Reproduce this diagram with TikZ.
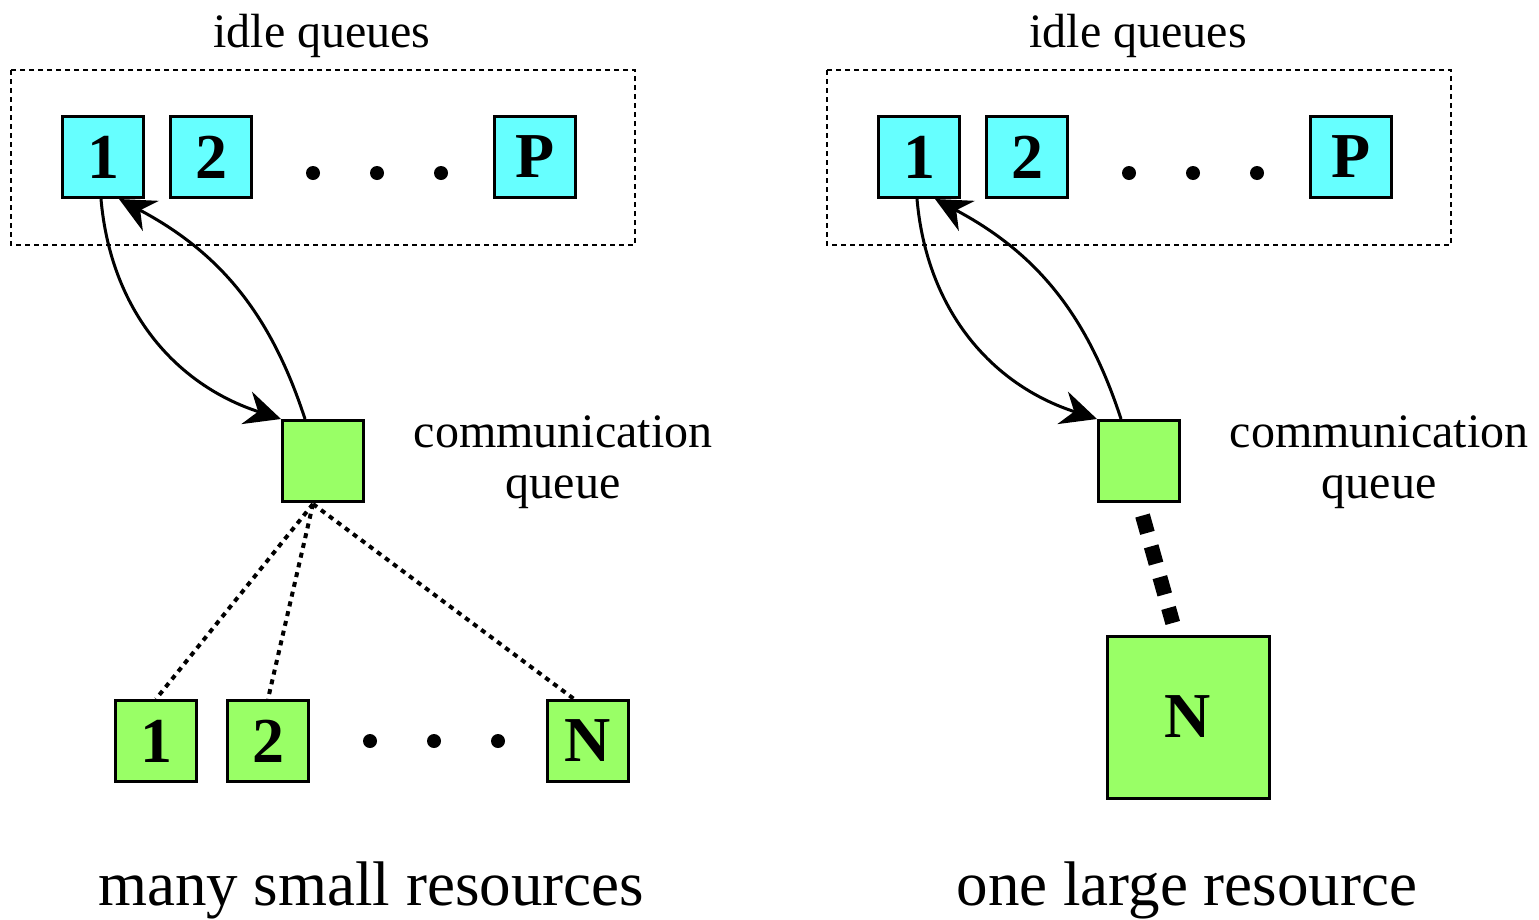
\documentclass[tikz,border=0pt]{standalone}
\usepackage{fontspec}
\setmainfont{Liberation Serif}
\usetikzlibrary{arrows.meta,calc}
\definecolor{qcyan}{HTML}{66FFFF}
\definecolor{qgreen}{HTML}{99FF66}
\begin{document}
\begin{tikzpicture}[x=1pt,y=1pt,
  qbox/.style={draw,line width=3pt,minimum size=81pt,inner sep=0pt,font=\fontsize{64}{64}\selectfont\bfseries},
  idlebox/.style={qbox,fill=qcyan},
  resbox/.style={qbox,fill=qgreen},
  dotn/.style={circle,fill=black,inner sep=0pt,minimum size=14pt},
  lbl/.style={font=\fontsize{48}{51}\selectfont,align=center,anchor=base},
  biglbl/.style={font=\fontsize{63}{63}\selectfont,anchor=base},
  frame/.style={draw,dashed,line width=1.3pt,dash pattern=on 5pt off 4pt},
  flow/.style={line width=3pt,-{Stealth[length=36pt,width=34pt,inset=12pt]}},
  dotted link/.style={line width=4pt,dash pattern=on 5pt off 5pt},
  heavy link/.style={line width=15pt,dash pattern=on 18pt off 14pt}]
\useasboundingbox (0,0) rectangle (1539,-919);

% ---------- left panel ----------
\node[lbl] (idleL) at (322,-47) {idle queues};
\draw[frame] (11,-70) rectangle (635,-245);
\node[idlebox] (iL1) at (103,-157) {1};
\node[idlebox] (iL2) at (211,-157) {2};
\node[idlebox] (iLP) at (535,-157) {P};
\node[dotn] (dL1) at (313,-173) {};
\node[dotn] (dL2) at (377,-173) {};
\node[dotn] (dL3) at (441,-173) {};
\node[resbox] (cL) at (323,-461) {};
\node[lbl] (cLt) at (563,-498) {communication\\queue};
\node[resbox] (rL1) at (156,-741) {1};
\node[resbox] (rL2) at (268,-741) {2};
\node[resbox] (rLN) at (588,-741) {N};
\node[dotn] (eL1) at (370,-741) {};
\node[dotn] (eL2) at (434,-741) {};
\node[dotn] (eL3) at (498,-741) {};
\coordinate (cLs) at ($(cL.south)+(-10,-1)$);
\draw[flow] ($(iL1.south)+(-2,0)$) to[out=-85,in=162] (cL.north west);
\draw[flow] ($(cL.north)+(-18,0)$) to[out=108,in=-28] ($(iL1.south east)+(-26,0)$);
\draw[dotted link] (cLs) -- (rL1.north);
\draw[dotted link] (cLs) -- (rL2.north);
\draw[dotted link] (cLs) -- ($(rLN.north)+(-14,0)$);
\node[biglbl] (capL) at (371,-905) {many small resources};

% ---------- right panel ----------
\node[lbl] (idleR) at (1138,-47) {idle queues};
\draw[frame] (827,-70) rectangle (1451,-245);
\node[idlebox] (iR1) at (919,-157) {1};
\node[idlebox] (iR2) at (1027,-157) {2};
\node[idlebox] (iRP) at (1351,-157) {P};
\node[dotn] (dR1) at (1129,-173) {};
\node[dotn] (dR2) at (1193,-173) {};
\node[dotn] (dR3) at (1257,-173) {};
\node[resbox] (cR) at (1139,-461) {};
\node[lbl] (cRt) at (1379,-498) {communication\\queue};
\node[resbox,minimum size=162pt] (rRN) at (1188,-717) {N};
\draw[flow] ($(iR1.south)+(-2,0)$) to[out=-85,in=162] (cR.north west);
\draw[flow] ($(cR.north)+(-18,0)$) to[out=108,in=-28] ($(iR1.south east)+(-26,0)$);
\draw[heavy link,shorten <=13pt,shorten >=12pt] (cR.south) -- ($(rRN.north)+(-12,0)$);
\node[biglbl] (capR) at (1187,-905) {one large resource};
\end{tikzpicture}
\end{document}
